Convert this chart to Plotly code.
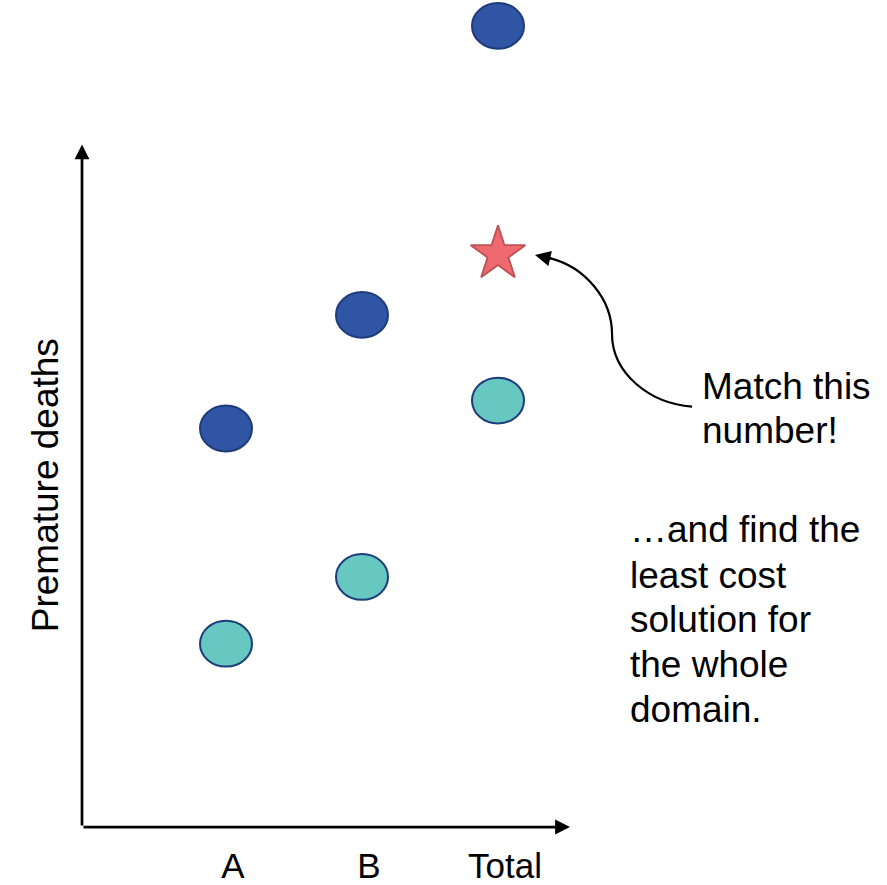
import plotly.graph_objects as go

# ---- data ----
categories = ["A", "B", "Total"]
cat_pos = [1, 2, 3]
high_deaths = [39.8, 51.2, 80.2]     # dark blue points
low_deaths = [18.2, 24.9, 42.6]      # teal points
target_deaths = [57.3]               # star (Total)
target_cat = [3]

W, H = 887, 885
MB = 40
PH = H - MB
FONT = "Liberation Sans, Arial, sans-serif"

DARK_FILL, DARK_EDGE = "#2F55A4", "#1E3C7C"
TEAL_FILL, TEAL_EDGE = "#66C8C1", "#1E3C7C"
STAR_FILL, STAR_EDGE = "#EE6A6E", "#BE4F54"

X_RANGE = [-0.6618, 5.8603]
Y_RANGE = [-1.7, 82.8]
px_per_x = W / (X_RANGE[1] - X_RANGE[0])
px_per_y = PH / (Y_RANGE[1] - Y_RANGE[0])

fig = go.Figure()

hw = 26 / px_per_x
hh = 23 / px_per_y
for vals, fill, edge in [(high_deaths, DARK_FILL, DARK_EDGE), (low_deaths, TEAL_FILL, TEAL_EDGE)]:
    for xc, yv in zip(cat_pos, vals):
        fig.add_shape(type="circle", xref="x", yref="y",
                      x0=xc - hw, x1=xc + hw, y0=yv - hh, y1=yv + hh,
                      fillcolor=fill, line=dict(color=edge, width=2), layer="above")

fig.add_trace(go.Scatter(x=cat_pos, y=high_deaths, mode="markers",
                         marker=dict(size=40, color="rgba(0,0,0,0)"), showlegend=False))
fig.add_trace(go.Scatter(x=cat_pos, y=low_deaths, mode="markers",
                         marker=dict(size=40, color="rgba(0,0,0,0)"), showlegend=False))

fig.add_trace(go.Scatter(x=target_cat, y=target_deaths, mode="markers",
                         marker=dict(symbol="star", size=41, color=STAR_FILL,
                                     line=dict(color=STAR_EDGE, width=1.8)),
                         showlegend=False))

# pixel -> paper (paper spans the plot area)
def pxx(x):
    return x / W

def pxy(y):
    return 1 - y / PH

annotations = []
x_left = X_RANGE[0] + 82 / px_per_x
x_tip = X_RANGE[0] + 570 / px_per_x
y_base = Y_RANGE[0] + (PH - 830) / px_per_y
y_tip = Y_RANGE[0] + (PH - 145) / px_per_y
annotations.append(dict(x=x_tip, y=y_base, ax=x_left, ay=y_base, xref="x", yref="y", axref="x", ayref="y",
                        text="", showarrow=True, arrowhead=2, arrowwidth=2.7, arrowsize=1.1,
                        arrowcolor="black", standoff=0, startstandoff=0))
annotations.append(dict(x=x_left, y=y_tip, ax=x_left, ay=y_base, xref="x", yref="y", axref="x", ayref="y",
                        text="", showarrow=True, arrowhead=2, arrowwidth=2.7, arrowsize=1.1,
                        arrowcolor="black", standoff=0, startstandoff=0))

annotations.append(dict(x=pxx(535), y=pxy(256), xref="paper", yref="paper", ax=18, ay=4,
                        text="", showarrow=True, arrowhead=2, arrowwidth=2, arrowsize=1.55,
                        arrowcolor="black", standoff=0))

annotations.append(dict(x=pxx(45), y=pxy(487), xref="paper", yref="paper", text="Premature deaths",
                        textangle=-90, showarrow=False, font=dict(family=FONT, size=37, color="black"),
                        xanchor="center", yanchor="middle"))

TS = 37
def add_line(txt, x, baseline):
    annotations.append(dict(x=pxx(x), y=pxy(baseline + 3 - 0.3465 * TS), xref="paper", yref="paper",
                            text=txt, showarrow=False, xanchor="left", yanchor="middle",
                            font=dict(family=FONT, size=TS, color="black")))

for txt, bl in [("Match this", 398), ("number!", 442)]:
    add_line(txt, 700, bl)
for txt, bl in [("…and find the", 541), ("least cost", 587), ("solution for", 632),
                ("the whole", 677), ("domain.", 722)]:
    add_line(txt, 628, bl)

def P(x, y):
    return f"{pxx(x):.5f},{pxy(y):.5f}"

path = (f"M {P(692,408)} C {P(650,405)} {P(612,375)} {P(612,335)} "
        f"C {P(612,300)} {P(585,268)} {P(550,259)}")
fig.add_shape(type="path", xref="paper", yref="paper", path=path,
              line=dict(color="black", width=2.2))

fig.update_layout(
    width=W, height=H, autosize=False,
    margin=dict(l=0, r=0, t=0, b=MB),
    plot_bgcolor="white", paper_bgcolor="white",
    showlegend=False,
    annotations=annotations,
    xaxis=dict(range=X_RANGE, tickvals=cat_pos, ticktext=categories, showgrid=False,
               zeroline=False, showline=False, ticks="", fixedrange=True,
               ticklabelshift=7,
               tickfont=dict(family=FONT, size=35, color="black")),
    yaxis=dict(range=Y_RANGE, showgrid=False, zeroline=False, showline=False,
               showticklabels=False, ticks="", fixedrange=True),
)

fig.write_html("out.html", config={"displayModeBar": False},
               post_script="document.body.style.margin='0';document.body.style.overflow='hidden';")
